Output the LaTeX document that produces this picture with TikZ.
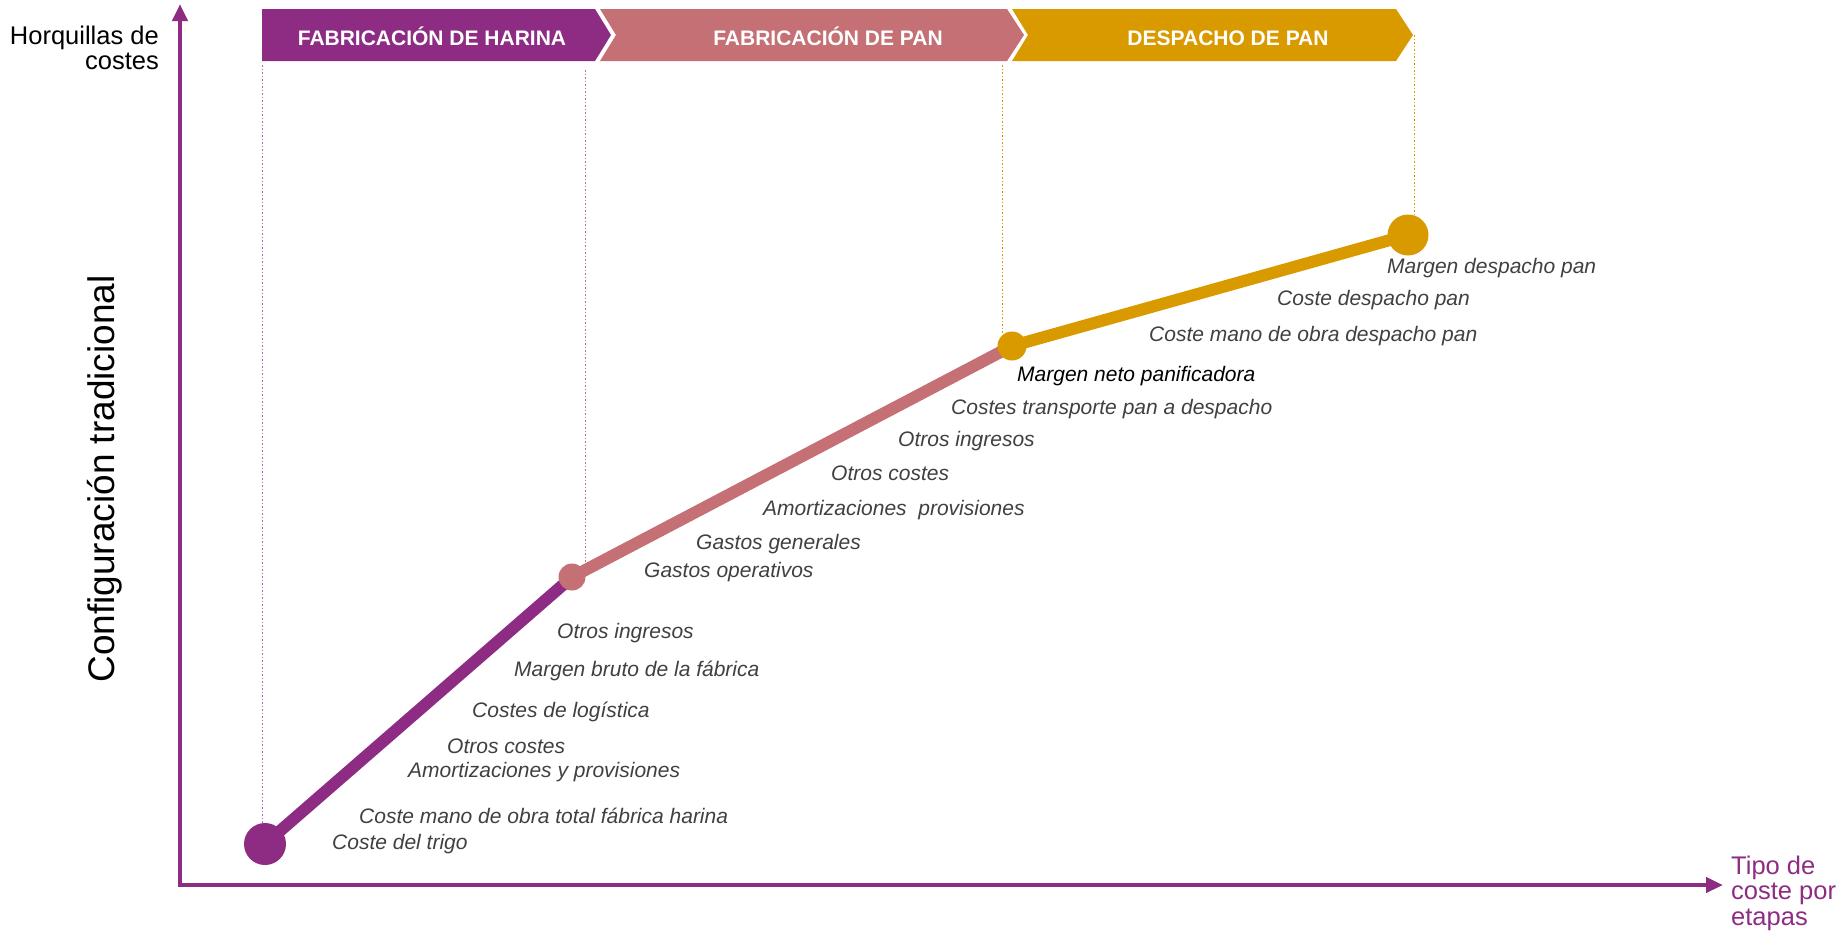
\documentclass[tikz,border=0pt]{standalone}
\usepackage{fontspec}
\setmainfont{Liberation Sans}
\usetikzlibrary{arrows.meta}
\definecolor{harina}{RGB}{142,44,132}
\definecolor{panrosa}{RGB}{196,112,116}
\definecolor{despacho}{RGB}{217,154,0}
\definecolor{grislbl}{RGB}{64,64,64}

\begin{document}
\begin{tikzpicture}[x=1pt, y=-1pt,
  etapa/.style={text=white, inner sep=0pt, anchor=base, font=\fontsize{21}{25}\selectfont\bfseries},
  costelbl/.style={anchor=west, inner sep=0pt, text=grislbl, font=\fontsize{21}{25}\selectfont\itshape},
  ejelbl/.style={inner sep=0pt, font=\fontsize{25.5}{25.5}\selectfont},
  eje/.style={harina, line width=4.5pt, {Triangle[length=17pt,width=15pt]}-{Triangle[length=17pt,width=15pt]}},
  guia/.style={line width=0.7pt, dash pattern=on 1.5pt off 2pt},
  tramo/.style={line width=12pt},
  punto/.style={circle, inner sep=0pt}
]
  \useasboundingbox (0,0) rectangle (1846,932);

  % etapas
  \fill[harina] (262,9) -- (595,9) -- (611,35) -- (595,61) -- (262,61) -- cycle;
  \fill[panrosa] (600,9) -- (1007,9) -- (1024,35) -- (1007,61) -- (600,61) -- (616,35) -- cycle;
  \fill[despacho] (1012,9) -- (1396,9) -- (1413,35) -- (1396,61) -- (1012,61) -- (1028,35) -- cycle;
  \node[etapa] (harinatxt) at (432,45) {FABRICACIÓN DE HARINA};
  \node[etapa] (pantxt) at (828,45) {FABRICACIÓN DE PAN};
  \node[etapa] (despachotxt) at (1228,45) {DESPACHO DE PAN};

  % ejes
  \coordinate (origen) at (180,885);
  \coordinate (ytop) at (180,4);
  \coordinate (xend) at (1723,885);
  \draw[eje] (ytop) -- (origen) -- (xend);
  \node[ejelbl, anchor=east, align=right] (ylbl) at (159,48) {Horquillas de\\costes};
  \node[ejelbl, anchor=west, align=left, text=harina] (xlbl) at (1731,893) {Tipo de\\coste por\\etapas};
  \node[inner sep=0pt, rotate=90, font=\fontsize{37}{40}\selectfont] (config) at (105,479) {Configuración tradicional};

  % puntos y tramos
  \coordinate (p1) at (265,844);
  \coordinate (p2) at (572,577);
  \coordinate (p3) at (1012,346);
  \coordinate (p4) at (1408,235);
  \draw[guia, harina!70] (262,65) -- (262,823);
  \draw[guia, panrosa] (585,70) -- (585,566);
  \draw[guia, despacho] (1002,65) -- (1002,334);
  \draw[guia, despacho] (1414,35) -- (1414,216);
  \draw[tramo, harina] (p1) -- (p2);
  \draw[tramo, panrosa] (p2) -- (p3);
  \draw[tramo, despacho] (p3) -- (p4);
  \node[punto, fill=harina, minimum size=42pt] (d1) at (p1) {};
  \node[punto, fill=panrosa, minimum size=27pt] (d2) at (p2) {};
  \node[punto, fill=despacho, minimum size=29pt] (d3) at (p3) {};
  \node[punto, fill=despacho, minimum size=41pt] (d4) at (p4) {};

  % costes
  \node[costelbl] (trigo) at (332,844) {Coste del trigo};
  \node[costelbl] (manoharina) at (359,816) {Coste mano de obra total fábrica harina};
  \node[costelbl] (amorth) at (408,772) {Amortizaciones y provisiones};
  \node[costelbl] (otrosch) at (447,746) {Otros costes};
  \node[costelbl] (logistica) at (472,712) {Costes de logística};
  \node[costelbl] (brutofab) at (514,671) {Margen bruto de la fábrica};
  \node[costelbl] (ingresosh) at (557,633) {Otros ingresos};
  \node[costelbl] (operativos) at (644,572) {Gastos operativos};
  \node[costelbl] (generales) at (696,544) {Gastos generales};
  \node[costelbl] (amortp) at (763,510) {Amortizaciones\ \ provisiones};
  \node[costelbl] (otroscp) at (831,473) {Otros costes};
  \node[costelbl] (ingresosp) at (898,441) {Otros ingresos};
  \node[costelbl] (transporte) at (951,409) {Costes transporte pan a despacho};
  \node[costelbl, text=black] (netopan) at (1017,376) {Margen neto panificadora};
  \node[costelbl] (manodesp) at (1149,336) {Coste mano de obra despacho pan};
  \node[costelbl] (costedesp) at (1277,300) {Coste despacho pan};
  \node[costelbl] (margendesp) at (1387,268) {Margen despacho pan};
\end{tikzpicture}
\end{document}
